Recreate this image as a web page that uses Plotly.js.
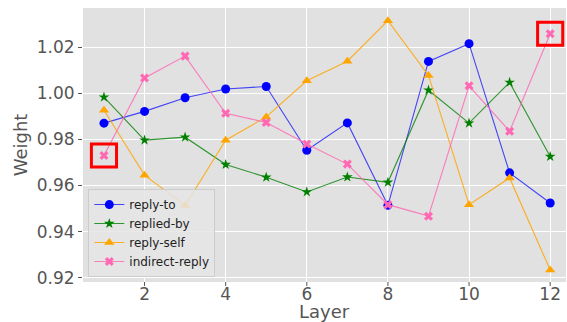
<!DOCTYPE html>
<html><head><meta charset="utf-8">
<script src="https://cdn.plot.ly/plotly-3.0.1.min.js"></script>
<style>body{margin:0;padding:0;background:#fff}#chart{width:567px;height:322px}</style>
</head><body><div id="chart"></div>
<script>
const layers = [1,2,3,4,5,6,7,8,9,10,11,12];
const replyTo = [0.9871,0.9922,0.9981,1.0019,1.0030,0.9753,0.9872,0.9514,1.0139,1.0216,0.9655,0.9524];
const repliedBy = [0.9984,0.9797,0.9810,0.9691,0.9636,0.9572,0.9637,0.9614,1.0014,0.9871,1.0048,0.9726];
const replySelf = [0.9927,0.9645,0.9513,0.9797,0.9898,1.0055,1.0140,1.0316,1.0078,0.9517,0.9633,0.9233];
const indirectReply = [0.9730,1.0067,1.0162,0.9914,0.9874,0.9780,0.9693,0.9517,0.9467,1.0033,0.9836,1.0259];
const seriesNames = ['reply-to','replied-by','reply-self','indirect-reply'];
const xTicks = [2,4,6,8,10,12];
const yTicks = [0.92,0.94,0.96,0.98,1.00,1.02];
const highlightIdx = [0, 11];

const font = 'DejaVu Sans, sans-serif';
function tr(y, name, color, lineColor, symbol, size){
  return {x: layers, y: y, name: name, type:'scatter', mode:'lines+markers',
    line:{color: lineColor, width:1.1}, marker:{color: color, symbol: symbol, size: size}};
}
const data = [
  tr(replyTo, seriesNames[0], 'blue', 'rgba(0,0,255,0.7)', 'circle', 9),
  tr(repliedBy, seriesNames[1], 'green', 'rgba(0,128,0,0.8)', 'star', 8),
  tr(replySelf, seriesNames[2], 'orange', 'rgba(255,165,0,0.85)', 'triangle-up', 9),
  tr(indirectReply, seriesNames[3], 'hotpink', 'rgba(255,105,180,0.85)', 'x', 8)
];
const shapes = highlightIdx.map(i => ({type:'rect', xref:'x', yref:'y',
  x0: layers[i]-0.31, x1: layers[i]+0.31, y0: indirectReply[i]-0.0050, y1: indirectReply[i]+0.0050,
  line:{color:'red', width:3}, fillcolor:'rgba(0,0,0,0)'}));
xTicks.forEach(v => shapes.push({type:'line', xref:'x', yref:'paper', ysizemode:'pixel', yanchor:0,
  x0:v, x1:v, y0:0, y1:-4, line:{color:'#555', width:1}}));
const layout = {
  width:567, height:322,
  margin:{l:83, r:1, t:8, b:40, pad:0},
  paper_bgcolor:'#fff', plot_bgcolor:'#e1e1e1',
  font:{family:font, color:'#555'},
  showlegend:true,
  legend:{x:0.011, y:0.018, xanchor:'left', yanchor:'bottom', bgcolor:'rgba(229,229,229,0.85)',
    bordercolor:'#cccccc', borderwidth:1, font:{size:12, color:'#222', family:font}, tracegroupgap:0, itemwidth:30},
  xaxis:{range:[0.483,12.39], tickvals:xTicks, ticks:'', ticklen:0,
    showgrid:true, gridcolor:'#fff', gridwidth:1, zeroline:false, showline:false,
    tickfont:{size:17, color:'#555'}},
  yaxis:{range:[0.9181,1.0371], tickvals:yTicks, tickformat:'.2f', ticks:'outside', ticklen:4, tickcolor:'#555',
    showgrid:true, gridcolor:'#fff', gridwidth:1, zeroline:false, showline:false,
    tickfont:{size:17, color:'#555'}, title:{text:'Weight', font:{size:18, color:'#555'}, standoff:4}},
  annotations:[{text:'Layer', xref:'paper', yref:'paper', x:0.5, y:-0.109, xanchor:'center', yanchor:'middle',
    showarrow:false, font:{size:18, color:'#555', family:font}}],
  shapes: shapes
};
Plotly.newPlot('chart', data, layout, {displayModeBar:false, staticPlot:true});
</script></body></html>
